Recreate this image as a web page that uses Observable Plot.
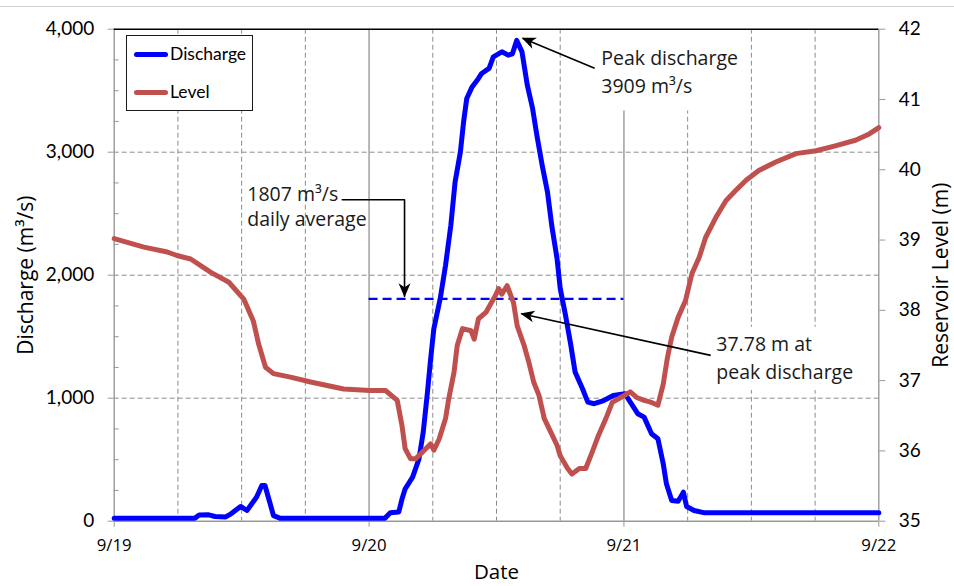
<!DOCTYPE html>
<html><head><meta charset="utf-8">
<script src="https://cdn.jsdelivr.net/npm/d3@7"></script>
<script src="https://cdn.jsdelivr.net/npm/@observablehq/plot@0.6"></script>
<style>
body{margin:0;background:#fff;}
#wrap{position:relative;width:954px;height:586px;overflow:hidden;background:#fff;}
#topline{position:absolute;left:0;top:6px;width:954px;height:1px;background:#d0d0d0;}
#legend{position:absolute;left:126px;top:35px;width:125px;height:74px;border:1.7px solid #1a1a1a;background:#fff;font-family:Lato,sans-serif;font-size:17.5px;color:#000;}
.sw{position:absolute;left:7px;width:34px;height:5px;border-radius:3px;}
.lb{position:absolute;left:43px;line-height:20px;}
</style></head>
<body>
<div id="wrap">
<div id="chart"></div>
<div id="topline"></div>
<div id="legend">
  <div class="sw" style="top:15.5px;background:#0000FF"></div><div class="lb" style="top:7.5px">Discharge</div>
  <div class="sw" style="top:53.5px;background:#C0504D"></div><div class="lb" style="top:45.5px">Level</div>
</div>
</div>
<script>
// ---- data (hours after 9/19 00:00) ----
const dischargeHours = [0,7.6,8.0,8.9,9.5,10.5,11.0,11.9,12.5,13.4,13.9,14.2,14.6,15.0,15.6,25.5,26.0,26.8,27.1,27.4,28.1,28.7,29.1,29.5,29.8,30.1,30.7,31.2,31.7,32.1,32.6,32.9,33.2,33.7,34.3,34.6,35.3,35.7,36.5,37.1,37.5,37.9,38.4,38.9,39.4,39.8,40.3,40.8,41.2,41.7,42.0,42.5,43.0,43.4,44.1,44.6,45.2,46.1,47.0,48.1,48.6,49.3,49.9,50.6,51.2,51.7,52.0,52.5,53.1,53.6,53.9,54.6,55.6,72];
const dischargeValues = [25,25,50,52,38,35,60,120,87,195,290,290,168,45,25,25,68,75,180,263,358,507,724,1050,1321,1565,1810,2080,2406,2758,3002,3246,3437,3531,3600,3640,3681,3775,3816,3789,3800,3909,3816,3545,3355,3138,2894,2677,2406,2135,1891,1674,1430,1213,1077,968,955,981,1022,1036,968,874,846,711,670,467,304,168,163,236,120,87,68,68];
const levelHours = [0,2.8,5.0,5.9,7.2,9.1,10.8,12.2,13.1,13.6,14.25,15.0,16.6,18.5,21.6,24.1,25.55,26.65,27.1,27.4,27.9,28.4,29.2,29.8,30.1,30.6,31.2,31.5,32.0,32.3,32.8,33.6,33.9,34.3,35.0,35.45,35.9,36.2,36.5,37.0,37.6,37.95,38.6,39.05,39.5,40.0,40.5,41.1,41.7,42.0,42.7,43.1,43.8,44.4,45.0,45.6,46.3,46.9,47.7,48.6,49.2,49.9,50.6,51.2,51.7,52.1,52.5,53.1,53.8,54.4,55.1,55.7,56.65,57.6,58.5,59.5,60.7,62.3,64.2,66.1,67.9,69.8,71.1,72];
const levelValues = [39.02,38.90,38.83,38.78,38.73,38.54,38.40,38.16,37.85,37.52,37.19,37.10,37.05,36.98,36.88,36.86,36.86,36.72,36.36,36.03,35.89,35.89,36.01,36.10,36.01,36.17,36.46,36.74,37.12,37.50,37.74,37.71,37.59,37.88,37.97,38.09,38.21,38.31,38.23,38.35,38.11,37.78,37.50,37.26,36.98,36.79,36.46,36.27,36.08,35.93,35.75,35.67,35.75,35.75,35.98,36.22,36.46,36.69,36.76,36.84,36.76,36.72,36.69,36.65,36.95,37.33,37.62,37.90,38.14,38.52,38.76,39.04,39.32,39.56,39.70,39.85,39.99,40.11,40.23,40.27,40.34,40.42,40.51,40.60];
const dailyAverage = 1807;
const peakDischarge = 3909;
const levelAtPeak = 37.78;

const xTicks = [0,24,48,72];
const xTickLabels = ["9/19","9/20","9/21","9/22"];
const dischargeTicks = [0,1000,2000,3000,4000];
const levelTicks = [35,36,37,38,39,40,41,42];

// ---- helpers ----
const LMIN = 35, LMAX = 42, DMAX = 4000;
const toD = L => (L - LMIN) * DMAX / (LMAX - LMIN);
const fromD = d => LMIN + d * (LMAX - LMIN) / DMAX;

const discharge = dischargeHours.map((h, i) => ({h, v: dischargeValues[i]}));
const level = levelHours.map((h, i) => ({h, v: toD(levelValues[i])}));
const minorTicks = d3.range(250, 4000, 250).filter(d => d % 1000 !== 0);
const dashedX = d3.range(6, 72, 6).filter(d => d % 24 !== 0);

const annoFont = {fontFamily: "'Open Sans', sans-serif", fontSize: 19.5, fill: "#1a1a1a", textAnchor: "start", lineAnchor: "middle"};
const texts = [
  {h: 45.87, v: 3756, t: "Peak discharge"},
  {h: 45.87, v: 3530, t: `${peakDischarge} m³/s`},
  {h: 12.53, v: 2657, t: `${dailyAverage} m³/s`},
  {h: 12.53, v: 2453, t: "daily average"},
  {h: 56.7, v: 1437, t: `${levelAtPeak} m at`},
  {h: 56.7, v: 1209, t: "peak discharge"}
];
const boxes = [
  {x1: 45.2, x2: 59.4, y1: 3335, y2: 4000},
  {x1: 56.4, x2: 70.1, y1: 1063, y2: 1576}
];
const arrows = [
  {x1: 45.24, y1: 3683, x2: 38.46, y2: 3927},
  {x1: 56.17, y1: 1348, x2: 38.34, y2: 1687}
];
const avgConnector = [{h: 21.48, v: 2614}, {h: 27.34, v: 2614}, {h: 27.34, v: 1828}];

// filled "stealth" arrowhead marker
function stealth(color) {
  const m = d3.create("svg:marker")
    .attr("viewBox", "-16 -8 18 16")
    .attr("markerWidth", 18).attr("markerHeight", 16)
    .attr("markerUnits", "userSpaceOnUse")
    .attr("orient", "auto").attr("overflow", "visible")
    .attr("fill", color).attr("stroke", "none");
  m.append("path").attr("d", "M1,0 L-13,-6 L-9,0 L-13,6 Z");
  return m.node();
}

const grey = "#8c8c8c";
const axisText = {fontFamily: "Lato, sans-serif", fontSize: 19, fill: "#000"};
const titleFont = {fontFamily: "'Open Sans', sans-serif", fontSize: 21, fill: "#000", textAnchor: "middle", lineAnchor: "middle"};

const chart = Plot.plot({
  width: 954, height: 586,
  marginTop: 28.7, marginBottom: 65.3, marginLeft: 113.7, marginRight: 75.7,
  x: {domain: [0, 72]},
  y: {domain: [0, DMAX]},
  style: {background: "white", overflow: "visible"},
  marks: [
    Plot.ruleY([1000, 2000, 3000], {stroke: grey, strokeWidth: 1, strokeDasharray: "5,3"}),
    Plot.ruleX(dashedX, {stroke: grey, strokeWidth: 1, strokeDasharray: "5,3"}),
    Plot.ruleX([24, 48], {stroke: "#999", strokeWidth: 1.4}),
    Plot.rect(boxes, {x1: "x1", x2: "x2", y1: "y1", y2: "y2", fill: "white"}),
    Plot.ruleX([0, 72], {stroke: "#999", strokeWidth: 1.4}),
    Plot.ruleY([0], {stroke: "#999", strokeWidth: 1.4}),
    Plot.ruleY([DMAX], {stroke: "#000", strokeWidth: 1.4}),
    Plot.axisX({ticks: xTicks, tickFormat: d => xTickLabels[xTicks.indexOf(d)], tickSize: 6, tickPadding: 12, stroke: "#999", label: null,
      fontFamily: "'Open Sans', sans-serif", fontSize: 16.8, fill: "#000"}),
    Plot.axisY({ticks: dischargeTicks, tickFormat: d3.format(","), tickSize: 6, tickPadding: 14, stroke: "#999", label: null, ...axisText}),
    Plot.axisY({ticks: minorTicks, tickFormat: () => "", tickSize: 5, insetLeft: 5, stroke: "#999", label: null}),
    Plot.axisY({anchor: "right", ticks: levelTicks.map(toD), tickFormat: d => String(Math.round(fromD(d))), tickSize: 6, tickPadding: 14, stroke: "#999", label: null, ...axisText}),
    Plot.text(["Discharge (m³/s)"], {text: d => d, frameAnchor: "left", rotate: -90, dx: -88, ...titleFont}),
    Plot.text(["Reservoir Level (m)"], {text: d => d, frameAnchor: "right", rotate: -90, dx: 62, ...titleFont}),
    Plot.text(["Date"], {text: d => d, frameAnchor: "bottom", dy: 51, ...titleFont, fontSize: 20.5}),
    Plot.ruleY([dailyAverage], {x1: 24, x2: 48, stroke: "#0000FF", strokeWidth: 2.2, strokeDasharray: "9,5"}),
    Plot.line(discharge, {x: "h", y: "v", stroke: "#0000FF", strokeWidth: 5, strokeLinejoin: "round", strokeLinecap: "round"}),
    Plot.line(level, {x: "h", y: "v", stroke: "#C0504D", strokeWidth: 5, strokeLinejoin: "round", strokeLinecap: "round"}),
    Plot.line(avgConnector, {x: "h", y: "v", stroke: "#000", strokeWidth: 1.6, markerEnd: stealth}),
    Plot.link(arrows, {x1: "x1", y1: "y1", x2: "x2", y2: "y2", stroke: "#000", strokeWidth: 1.6, markerEnd: stealth}),
    Plot.text(texts, {x: "h", y: "v", text: "t", ...annoFont})
  ]
});
document.getElementById("chart").appendChild(chart);
</script>
</body></html>
